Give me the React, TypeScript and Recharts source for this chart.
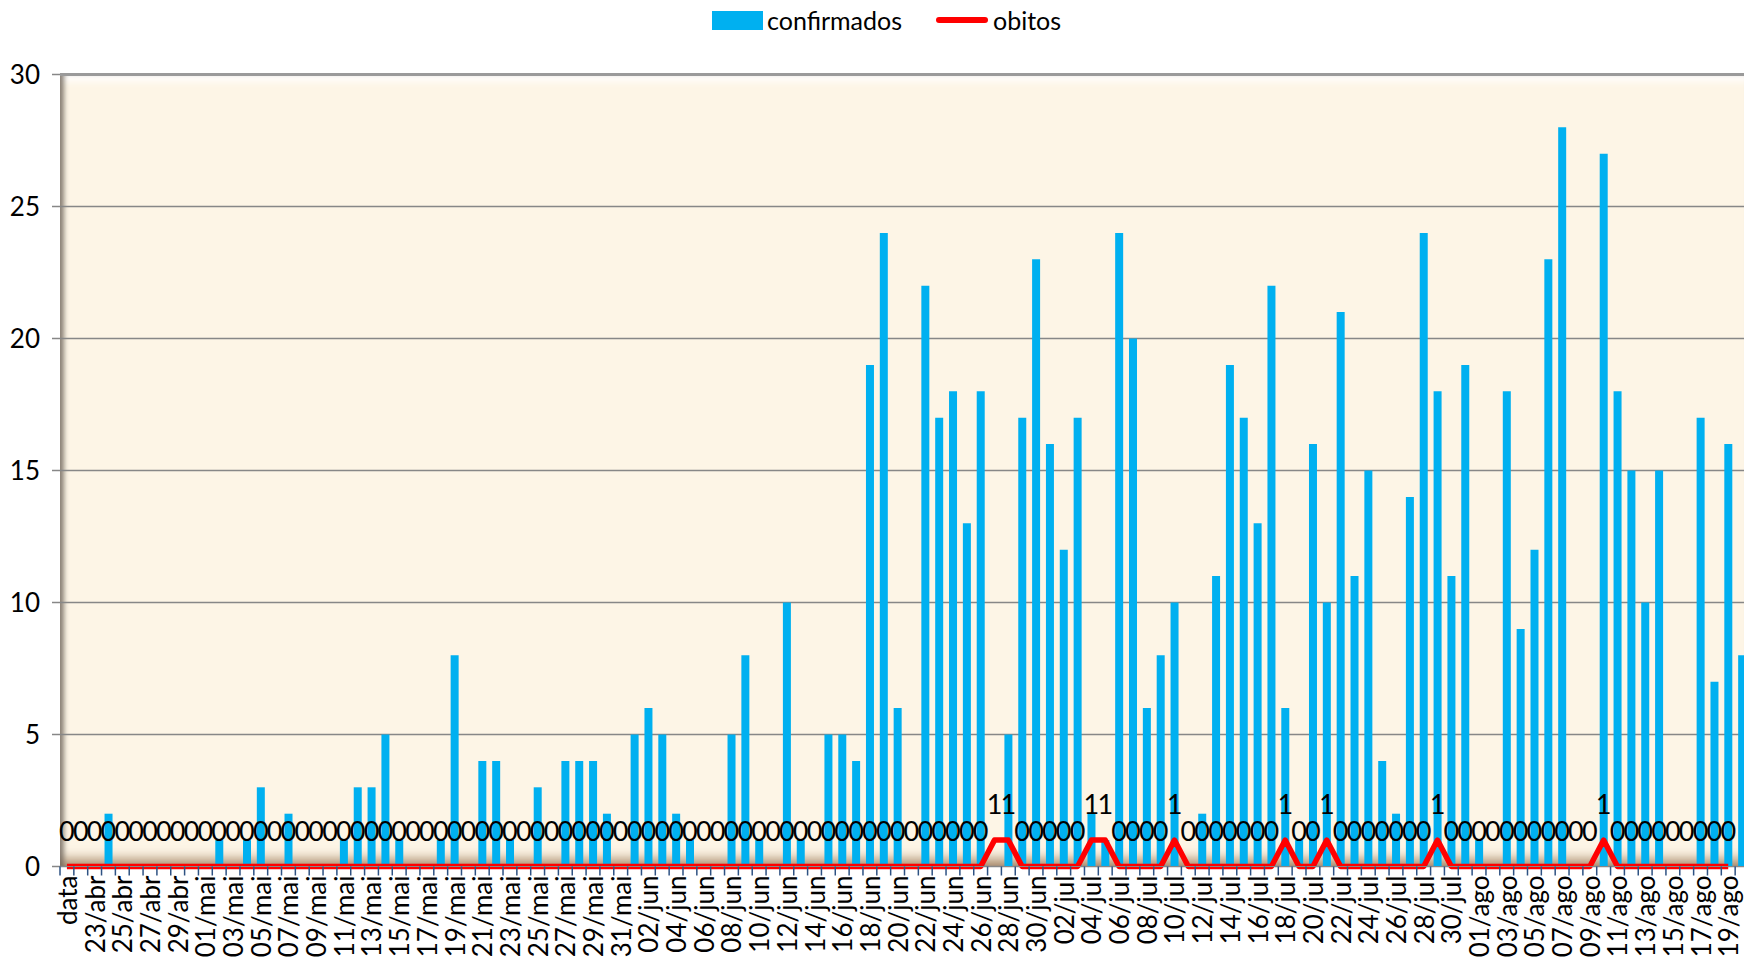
import React from 'react';
import { ComposedChart, Bar, Line, XAxis, YAxis, CartesianGrid, LabelList, ReferenceLine } from 'recharts';

const FONT = 'Lato, "Open Sans", sans-serif';

// category labels, one per day (first row of the sheet is the header "data")
const abrDays = ['22/abr', '23/abr', '24/abr', '25/abr', '26/abr', '27/abr', '28/abr', '29/abr', '30/abr'];
const maiDays = [
  '01/mai', '02/mai', '03/mai', '04/mai', '05/mai', '06/mai', '07/mai', '08/mai', '09/mai', '10/mai',
  '11/mai', '12/mai', '13/mai', '14/mai', '15/mai', '16/mai', '17/mai', '18/mai', '19/mai', '20/mai',
  '21/mai', '22/mai', '23/mai', '24/mai', '25/mai', '26/mai', '27/mai', '28/mai', '29/mai', '30/mai', '31/mai',
];
const junDays = [
  '01/jun', '02/jun', '03/jun', '04/jun', '05/jun', '06/jun', '07/jun', '08/jun', '09/jun', '10/jun',
  '11/jun', '12/jun', '13/jun', '14/jun', '15/jun', '16/jun', '17/jun', '18/jun', '19/jun', '20/jun',
  '21/jun', '22/jun', '23/jun', '24/jun', '25/jun', '26/jun', '27/jun', '28/jun', '29/jun', '30/jun',
];
const julDays = [
  '01/jul', '02/jul', '03/jul', '04/jul', '05/jul', '06/jul', '07/jul', '08/jul', '09/jul', '10/jul',
  '11/jul', '12/jul', '13/jul', '14/jul', '15/jul', '16/jul', '17/jul', '18/jul', '19/jul', '20/jul',
  '21/jul', '22/jul', '23/jul', '24/jul', '25/jul', '26/jul', '27/jul', '28/jul', '29/jul', '30/jul', '31/jul',
];
const agoDays = [
  '01/ago', '02/ago', '03/ago', '04/ago', '05/ago', '06/ago', '07/ago', '08/ago', '09/ago', '10/ago',
  '11/ago', '12/ago', '13/ago', '14/ago', '15/ago', '16/ago', '17/ago', '18/ago', '19/ago', '20/ago',
];

// confirmados per day
const confAbr = [0, 0, 2, 0, 0, 0, 0, 0, 0];
const confMai = [0, 1, 0, 1, 3, 0, 2, 0, 0, 0, 1, 3, 3, 5, 1, 0, 0, 1, 8, 0, 4, 4, 1, 0, 3, 0, 4, 4, 4, 2, 0];
const confJun = [5, 6, 5, 2, 1, 0, 0, 5, 8, 1, 0, 10, 1, 0, 5, 5, 4, 19, 24, 6, 0, 22, 17, 18, 13, 18, 0, 5, 17, 23];
const confJul = [16, 12, 17, 2, 1, 24, 20, 6, 8, 10, 0, 2, 11, 19, 17, 13, 22, 6, 1, 16, 10, 21, 11, 15, 4, 2, 14, 24, 18, 11, 19];
const confAgo = [1, 0, 18, 9, 12, 23, 28, 0, 0, 27, 18, 15, 10, 15, 0, 0, 17, 7, 16, 8];

// obitos per day
const obAbr = [0, 0, 0, 0, 0, 0, 0, 0, 0];
const obMai = [0, 0, 0, 0, 0, 0, 0, 0, 0, 0, 0, 0, 0, 0, 0, 0, 0, 0, 0, 0, 0, 0, 0, 0, 0, 0, 0, 0, 0, 0, 0];
const obJun = [0, 0, 0, 0, 0, 0, 0, 0, 0, 0, 0, 0, 0, 0, 0, 0, 0, 0, 0, 0, 0, 0, 0, 0, 0, 0, 1, 1, 0, 0];
const obJul = [0, 0, 0, 1, 1, 0, 0, 0, 0, 1, 0, 0, 0, 0, 0, 0, 0, 1, 0, 0, 1, 0, 0, 0, 0, 0, 0, 0, 1, 0, 0];
const obAgo = [0, 0, 0, 0, 0, 0, 0, 0, 0, 1, 0, 0, 0, 0, 0, 0, 0, 0, 0, null];

const categories = ['data', ...abrDays, ...maiDays, ...junDays, ...julDays, ...agoDays];
const confirmados = [null, ...confAbr, ...confMai, ...confJun, ...confJul, ...confAgo];
const obitos = [0, ...obAbr, ...obMai, ...obJun, ...obJul, ...obAgo];

const yTicks = [0, 5, 10, 15, 20, 25, 30];

const chartData = categories.map((dia, i) => ({ dia, confirmados: confirmados[i], obitos: obitos[i] }));

const CHART_W = 1749;
const CHART_H = 961;
const AXIS_W = 60;
const TOP = 74.5;
const X_AXIS_H = 94.5;
const PLOT_W = CHART_W - AXIS_W;
const PLOT_H = CHART_H - TOP - X_AXIS_H;
const catW = PLOT_W / categories.length;

const renderXTick = (props: any) => {
  const { x, y, payload } = props;
  const i = props.index ?? payload?.index ?? 0;
  const bx = x - catW / 2;
  return (
    <g>
      <line x1={bx} y1={y} x2={bx} y2={y + 9} stroke="#2E5283" strokeWidth={1.5} />
      {i % 2 === 0 && (
        <text
          x={0}
          y={0}
          transform={`translate(${x},${y + 9}) rotate(-90)`}
          textAnchor="end"
          dominantBaseline="central"
          fontSize={26}
          fontFamily={FONT}
          fill="#000"
        >
          {payload.value}
        </text>
      )}
    </g>
  );
};

const renderObitoLabel = (props: any) => {
  const { x, y, value } = props;
  if (value == null || x == null || y == null) return null;
  return (
    <text x={x} y={y - 26} textAnchor="middle" fontSize={27} fontFamily={FONT} fill="#000">
      {value}
    </text>
  );
};

export default function App() {
  return (
    <div
      style={{
        position: 'absolute',
        left: 0,
        top: 0,
        width: 1744,
        height: 961,
        overflow: 'hidden',
        background: '#fff',
        fontFamily: FONT,
      }}
    >
      {/* plot area wall */}
      <div
        style={{
          position: 'absolute',
          left: AXIS_W,
          top: TOP,
          width: PLOT_W,
          height: PLOT_H,
          background: '#FDF5E6',
          boxShadow:
            'inset 6px 0 5px -2px rgba(110,100,90,0.8), inset 0 -16px 12px -8px rgba(150,115,80,0.8), inset 0 12px 8px -6px #ffffff',
        }}
      />

      {/* legend */}
      <div
        style={{
          position: 'absolute',
          top: 5,
          left: 712,
          display: 'flex',
          alignItems: 'center',
          fontSize: 25,
          color: '#000',
          whiteSpace: 'nowrap',
        }}
      >
        <span style={{ display: 'inline-block', width: 51, height: 19, background: '#00B0F0' }} />
        <span style={{ marginLeft: 4 }}>confirmados</span>
        <span
          style={{ display: 'inline-block', width: 52, height: 6, background: '#FF0000', marginLeft: 34, borderRadius: 3 }}
        />
        <span style={{ marginLeft: 5 }}>obitos</span>
      </div>

      <div style={{ position: 'absolute', left: 0, top: 0 }}>
        <ComposedChart
          width={CHART_W}
          height={CHART_H}
          data={chartData}
          margin={{ top: TOP, right: 0, bottom: 0, left: 0 }}
        >
          <CartesianGrid vertical={false} stroke="#878787" strokeWidth={1.5} />
          <XAxis
            dataKey="dia"
            interval={0}
            height={X_AXIS_H}
            tickSize={0}
            tickMargin={0}
            tickLine={false}
            axisLine={{ stroke: '#878787' }}
            tick={renderXTick}
          />
          <YAxis
            type="number"
            domain={[0, 30]}
            ticks={yTicks}
            interval={0}
            width={AXIS_W}
            axisLine={false}
            tickLine={{ stroke: '#878787', strokeWidth: 1.5 }}
            tickSize={8}
            tickMargin={12}
            tick={{ fontSize: 26, fill: '#000', fontFamily: FONT }}
          />
          <ReferenceLine y={30} stroke="#9A9A9A" strokeWidth={3} />
          <Bar dataKey="confirmados" fill="#00B0F0" barSize={8} isAnimationActive={false} />
          <Line
            type="linear"
            dataKey="obitos"
            stroke="#FF0000"
            strokeWidth={5.5}
            strokeLinejoin="round"
            dot={false}
            activeDot={false}
            isAnimationActive={false}
          >
            <LabelList dataKey="obitos" content={renderObitoLabel} />
          </Line>
        </ComposedChart>
      </div>
    </div>
  );
}
